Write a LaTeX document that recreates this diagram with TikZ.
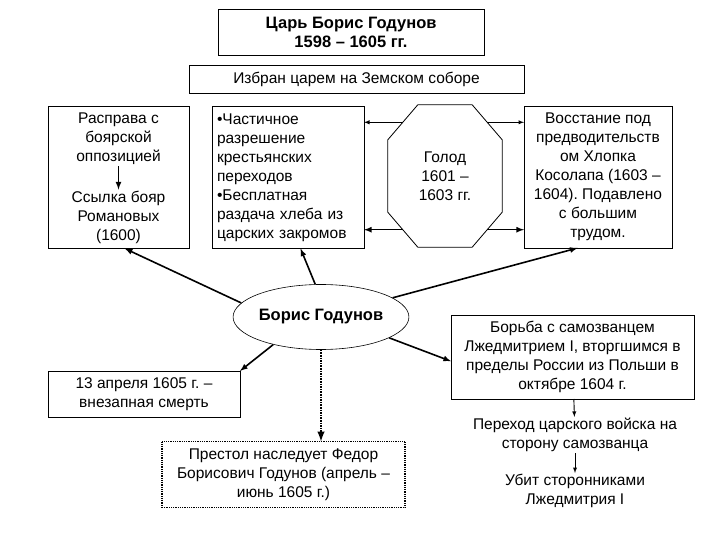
\documentclass[tikz,border=0pt]{standalone}
\usepackage{fontspec}
\setmainfont{Liberation Sans}
\usetikzlibrary{shapes.geometric,calc}
\frenchspacing

\begin{document}
\begin{tikzpicture}[
            x=1pt, y=-1pt,
            font=\fontsize{15.5}{19}\selectfont,
            >=latex,
            box/.style={
                draw,
                rectangle,
                line width=0.8pt,
                align=center,
                inner sep=2pt,
                outer sep=0pt
            },
            txt/.style={
                align=center,
                inner sep=1pt
            },
            bold/.style={
                font=\fontsize{16.5}{19}\selectfont\bfseries
            },
            arrow/.style={
                ->,
                line width=1.6pt
            },
            thinarrow/.style={
                ->,
                line width=0.9pt
            }
        ]
            \useasboundingbox (0,0) rectangle (720,540);
            % top
            \node (tsar) [box, bold, minimum width=266, minimum height=46] at (351,32) {Царь Борис Годунов\\1598 – 1605 гг.};
            \node (izbran) [box, minimum width=335, minimum height=28] at (356.5,79) {Избран царем на Земском соборе};

            % middle row
            \node (leftbox) [box, minimum width=141, minimum height=142] at (118.5,177.5) {};
            \node (rasprava) [txt] at (118.5,139) {Расправа с\\боярской\\оппозицией};
            \node (ssylka) [txt] at (118.5,217) {Ссылка бояр\\Романовых\\(1600)};
            \node (reforms) [box, minimum width=152, minimum height=142, text width=142, inner xsep=5pt, align=left] at (288,177.5) {•Частичное\\разрешение\\крестьянских\\переходов\\•Бесплатная\\раздача хлеба из\\царских закромов};
            \node (golod) [txt, minimum width=114, minimum height=142, inner sep=0pt] at (445,176) {Голод\\1601 –\\1603 гг.};
            \draw[line width=0.8pt] ($(golod.north west)+(30,0)$) -- ($(golod.north east)+(-30,0)$)
                -- ($(golod.north east)+(0,35)$) -- ($(golod.south east)+(0,-35)$)
                -- ($(golod.south east)+(-30,0)$) -- ($(golod.south west)+(30,0)$)
                -- ($(golod.south west)+(0,-35)$) -- ($(golod.north west)+(0,35)$) -- cycle;
            \coordinate (gnw) at ($(golod.north west)+(15,17.5)$);
            \coordinate (gne) at ($(golod.north east)+(-15,17.5)$);
            \coordinate (gsw) at ($(golod.south west)+(15,-17.5)$);
            \coordinate (gse) at ($(golod.south east)+(-15,-17.5)$);
            \node (vosstanie) [box, minimum width=148, minimum height=142] at (598,177) {Восстание под\\предводительств\\ом Хлопка\\Косолапа (1603 –\\1604). Подавлено\\с большим\\трудом.};

            \draw[arrow] (rasprava.south) -- (ssylka.north);
            \draw[thinarrow] (gnw) -- (gnw -| reforms.east);
            \draw[thinarrow] (gne) -- (gne -| vosstanie.west);
            \draw[arrow] (gsw) -- (gsw -| reforms.east);
            \draw[arrow] (gse) -- (gse -| vosstanie.west);

            % centre
            \node (boris) [draw, ellipse, bold, minimum width=172, minimum height=65, line width=0.6pt, inner sep=0pt] at (321,317) {Борис Годунов};

            \draw[arrow] (boris.170) -- (leftbox.275);
            \draw[arrow] (boris.100) -- (reforms.280);
            \draw[arrow] (boris.15) -- (vosstanie.254);

            % bottom
            \node (smert) [box, minimum width=192, minimum height=46] at (144,394) {13 апреля 1605 г. –\\внезапная смерть};
            \node (prestol) [box, densely dotted, line width=1.5pt, minimum width=243, minimum height=66] at (283.5,474.5) {Престол наследует Федор\\Борисович Годунов (апрель –\\июнь 1605 г.)};
            \node (borba) [box, minimum width=243, minimum height=84] at (572.5,357) {Борьба с самозванцем\\Лжедмитрием I, вторгшимся в\\пределы России из Польши в\\октябре 1604 г.};
            \node (perehod) [txt] at (575,435) {Переход царского войска на\\сторону самозванца};
            \node (ubit) [txt] at (575,491) {Убит сторонниками\\Лжедмитрия I};

            \draw[arrow] (boris.210) -- (smert.north east);
            \draw[arrow, densely dotted, line width=2.4pt] (boris.south) -- (boris.south |- prestol.north);
            \draw[arrow] (boris.343) -- (borba.182);
            \draw[thinarrow] (borba) -- (perehod);
            \draw[thinarrow] (perehod) -- (ubit);
        \end{tikzpicture}
\end{document}
